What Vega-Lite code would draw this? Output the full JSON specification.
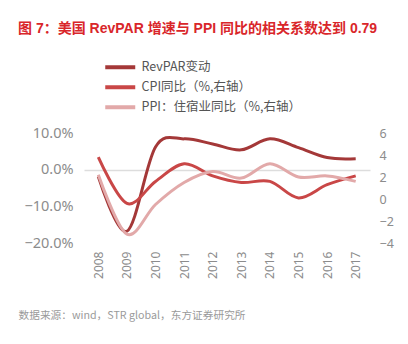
{
  "$schema": "https://vega.github.io/schema/vega-lite/v6.json",
  "width": 286,
  "height": 110,
  "autosize": "none",
  "padding": {"left": 84, "top": 133, "right": 38, "bottom": 101},
  "background": "white",
  "config": {"view": {"stroke": null}, "font": "Noto Sans", "legend": {"padding": 0}},
  "title": {
    "text": "图 7：美国 RevPAR 增速与 PPI 同比的相关系数达到 0.79",
    "anchor": "start",
    "frame": "group",
    "dx": -66,
    "offset": 25,
    "color": "#D9262A",
    "fontSize": 14,
    "fontWeight": "bold",
    "font": "Liberation Sans, Noto Sans CJK SC"
  },
  "data": {
    "values": [
      {"year": "2008", "series": "RevPAR变动", "value": -1.9},
      {"year": "2009", "series": "RevPAR变动", "value": -16.8},
      {"year": "2010", "series": "RevPAR变动", "value": 6.2},
      {"year": "2011", "series": "RevPAR变动", "value": 8.4},
      {"year": "2012", "series": "RevPAR变动", "value": 7.0},
      {"year": "2013", "series": "RevPAR变动", "value": 5.4},
      {"year": "2014", "series": "RevPAR变动", "value": 8.4},
      {"year": "2015", "series": "RevPAR变动", "value": 6.0},
      {"year": "2016", "series": "RevPAR变动", "value": 3.3},
      {"year": "2017", "series": "RevPAR变动", "value": 3.0},
      {"year": "2008", "series": "CPI同比（%,右轴）", "value": 3.8},
      {"year": "2009", "series": "CPI同比（%,右轴）", "value": -0.4},
      {"year": "2010", "series": "CPI同比（%,右轴）", "value": 1.6},
      {"year": "2011", "series": "CPI同比（%,右轴）", "value": 3.2},
      {"year": "2012", "series": "CPI同比（%,右轴）", "value": 2.1},
      {"year": "2013", "series": "CPI同比（%,右轴）", "value": 1.5},
      {"year": "2014", "series": "CPI同比（%,右轴）", "value": 1.6},
      {"year": "2015", "series": "CPI同比（%,右轴）", "value": 0.1},
      {"year": "2016", "series": "CPI同比（%,右轴）", "value": 1.3},
      {"year": "2017", "series": "CPI同比（%,右轴）", "value": 2.1},
      {"year": "2008", "series": "PPI：住宿业同比（%,右轴）", "value": 2.2},
      {"year": "2009", "series": "PPI：住宿业同比（%,右轴）", "value": -3.2},
      {"year": "2010", "series": "PPI：住宿业同比（%,右轴）", "value": -0.5},
      {"year": "2011", "series": "PPI：住宿业同比（%,右轴）", "value": 1.5},
      {"year": "2012", "series": "PPI：住宿业同比（%,右轴）", "value": 2.5},
      {"year": "2013", "series": "PPI：住宿业同比（%,右轴）", "value": 1.9},
      {"year": "2014", "series": "PPI：住宿业同比（%,右轴）", "value": 3.2},
      {"year": "2015", "series": "PPI：住宿业同比（%,右轴）", "value": 2.0},
      {"year": "2016", "series": "PPI：住宿业同比（%,右轴）", "value": 2.1},
      {"year": "2017", "series": "PPI：住宿业同比（%,右轴）", "value": 1.6}
    ]
  },
  "encoding": {
    "x": {
      "field": "year",
      "type": "ordinal",
      "scale": {"type": "point", "padding": 0.5},
      "axis": {
        "domain": false,
        "ticks": false,
        "labelAngle": 270,
        "labelPadding": 8,
        "labelFontSize": 12,
        "labelColor": "#8c8c8c",
        "title": "数据来源：wind，STR global，东方证券研究所",
        "titleX": -66,
        "titleY": 75,
        "titleAlign": "left",
        "titleAnchor": "start",
        "titleBaseline": "alphabetic",
        "titleFont": "Noto Sans CJK SC",
        "titleFontSize": 10.7,
        "titleFontWeight": "normal",
        "titleColor": "#9a9a9a"
      }
    },
    "color": {
      "field": "series",
      "type": "nominal",
      "scale": {
        "domain": ["RevPAR变动", "CPI同比（%,右轴）", "PPI：住宿业同比（%,右轴）"],
        "range": ["#A43838", "#C94747", "#E2A9A9"]
      },
      "legend": {
        "orient": "none",
        "legendX": 45,
        "legendY": -72,
        "title": null,
        "symbolType": "M-15,0H0",
        "symbolSize": 16,
        "symbolStrokeWidth": 4,
        "labelFontSize": 12.5,
        "labelColor": "#555555",
        "labelFont": "Noto Sans CJK SC",
        "labelOffset": 0,
        "rowPadding": 3
      }
    }
  },
  "layer": [
    {
      "transform": [{"filter": "datum.series === 'RevPAR变动'"}],
      "mark": {"type": "line", "interpolate": "cardinal", "strokeWidth": 3},
      "encoding": {
        "y": {
          "field": "value",
          "type": "quantitative",
          "scale": {"domain": [-20, 10], "nice": false, "zero": false},
          "axis": {
            "orient": "left",
            "values": [-20, -10, 0, 10],
            "labelExpr": "format(datum.value, '.1f') + '%'",
            "domain": false,
            "ticks": false,
            "labelPadding": 11,
            "labelFontSize": 14.5,
            "labelColor": "#8c8c8c",
            "title": null,
            "grid": true,
            "gridColor": "#dddddd",
            "gridWidth": 1.5,
            "gridOpacity": {"condition": {"test": "datum.value === 0", "value": 1}, "value": 0}
          }
        }
      }
    },
    {
      "transform": [{"filter": "datum.series !== 'RevPAR变动'"}],
      "mark": {"type": "line", "interpolate": "cardinal", "strokeWidth": 3},
      "encoding": {
        "y": {
          "field": "value",
          "type": "quantitative",
          "scale": {"domain": [-4, 6], "nice": false, "zero": false},
          "axis": {
            "orient": "right",
            "values": [-4, -2, 0, 2, 4, 6],
            "domain": false,
            "ticks": false,
            "labelPadding": 9,
            "labelFontSize": 12.5,
            "labelColor": "#8c8c8c",
            "title": null,
            "grid": false
          }
        }
      }
    }
  ],
  "resolve": {"scale": {"y": "independent"}}
}
